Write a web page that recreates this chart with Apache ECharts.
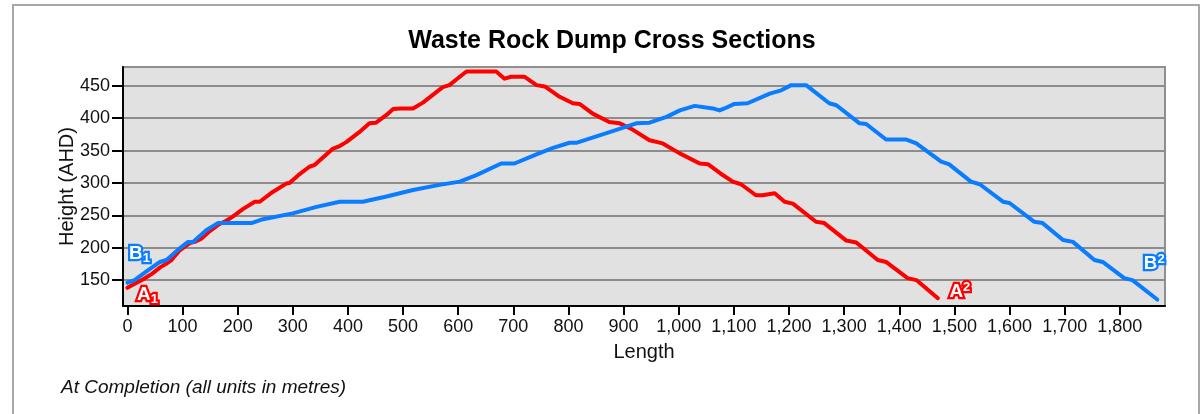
<!DOCTYPE html>
<html>
<head>
<meta charset="utf-8">
<title>Waste Rock Dump Cross Sections</title>
<script src="https://cdn.jsdelivr.net/npm/echarts@6/dist/echarts.min.js"></script>
<style>
  html, body { margin: 0; padding: 0; background: #fff; }
  #chart { width: 1200px; height: 414px; }
</style>
</head>
<body>
<div id="chart"></div>
<script>
// Section A-A (red): [length, height] profile points, metres
const sectionA = [
  [0,138],[15,145],[28,151],[45,160],[60,170],[72,176],[80,181],[95,196],[113,207],[122,209],
  [134,214],[150,226],[164,235],[180,242],[191,248],[210,260],[231,271],[240,271],[260,284],
  [288,299],[294,300],[310,312],[330,325],[340,328],[349,335],[373,353],[385,357],[397,363],
  [420,378],[439,392],[451,393],[470,405],[482,414],[495,415],[518,415],[536,424],[554,436],
  [572,448],[584,451],[600,462],[615,472],[669,472],[684,461],[696,464],[720,464],[742,451],
  [757,449],[784,433],[808,423],[820,422],[844,407],[874,394],[893,392],[917,382],[947,366],
  [971,361],[1001,346],[1038,330],[1053,329],[1075,315],[1098,302],[1113,298],[1140,281],
  [1152,281],[1174,284],[1192,271],[1207,268],[1249,240],[1264,238],[1304,211],[1322,208],
  [1361,181],[1376,178],[1415,153],[1431,150],[1470,122]
];

// Section B-B (blue): [length, height] profile points, metres
const sectionB = [
  [0,146],[13,150],[34,163],[59,178],[71,181],[95,199],[110,209],[119,209],[143,227],[164,238],
  [225,238],[246,244],[300,253],[343,263],[385,271],[427,271],[470,279],[518,289],[566,297],
  [603,302],[633,312],[678,330],[702,330],[742,344],[772,354],[802,362],[814,362],[869,377],
  [923,392],[947,393],[978,402],[1002,412],[1029,419],[1062,415],[1074,412],[1083,415],
  [1101,422],[1125,423],[1165,438],[1186,443],[1204,451],[1231,451],[1273,423],[1286,420],
  [1328,392],[1340,391],[1376,367],[1413,367],[1431,361],[1476,333],[1490,329],[1530,302],
  [1546,298],[1588,271],[1600,269],[1645,240],[1660,238],[1697,212],[1715,209],[1754,181],
  [1769,178],[1808,153],[1823,150],[1868,120]
];

// Axis tick values
const lengthTicks = [0,100,200,300,400,500,600,700,800,900,1000,1100,1200,1300,1400,1500,1600,1700,1800];
const heightTicks = [150,200,250,300,350,400,450];

// Section end labels: [section letter, start index, end index]
const sectionLabels = { A: ['A', '1', '2'], B: ['B', '1', '2'] };

const RED = '#ff0000';
const BLUE = '#0a7cff';
const FONT = '"Liberation Sans", Arial, sans-serif';

function endRich(color) {
  const base = {
    color: '#fff',
    fontFamily: FONT,
    fontWeight: 'bold',
    textBorderColor: color,
    textBorderWidth: 4.5
  };
  return {
    big: Object.assign({}, base, { fontSize: 19, lineHeight: 22 }),
    sub: Object.assign({}, base, { fontSize: 13, lineHeight: 22, verticalAlign: 'bottom' }),
    sup: Object.assign({}, base, { fontSize: 13, lineHeight: 22, verticalAlign: 'top' })
  };
}

function endMarks(points, letters, color, startOffset, endOffset) {
  const first = points[0];
  const last = points[points.length - 1];
  return {
    symbol: 'circle',
    symbolSize: 1,
    itemStyle: { color: 'rgba(0,0,0,0)' },
    silent: true,
    label: { show: true, rich: endRich(color) },
    data: [
      {
        coord: first,
        label: { offset: startOffset, formatter: '{big|' + letters[0] + '}{sub|' + letters[1] + '}' }
      },
      {
        coord: last,
        label: { offset: endOffset, formatter: '{big|' + letters[0] + '}{sup|' + letters[2] + '}' }
      }
    ]
  };
}

const chart = echarts.init(document.getElementById('chart'), null, { renderer: 'canvas' });

const fmt = v => v.toLocaleString('en-US');

chart.setOption({
  backgroundColor: '#fff',
  animation: false,
  textStyle: { fontFamily: FONT },
  title: [
    {
      text: 'Waste Rock Dump Cross Sections',
      left: 607,
      top: 24,
      textAlign: 'center',
      textStyle: { fontFamily: FONT, fontSize: 25, fontWeight: 'bold', color: '#000' }
    },
    {
      text: 'At Completion (all units in metres)',
      left: 56,
      top: 373,
      textStyle: { fontFamily: FONT, fontSize: 19, fontStyle: 'italic', fontWeight: 'normal', color: '#111' }
    }
  ],
  graphic: [
    {
      type: 'rect',
      shape: { x: 13, y: 5, width: 1186, height: 430 },
      style: { fill: null, stroke: '#a8a8a8', lineWidth: 2 },
      silent: true,
      z: -1
    }
  ],
  grid: {
    left: 123,
    right: 35,
    top: 67,
    bottom: 108,
    show: true,
    backgroundColor: '#e1e1e1',
    borderColor: '#8f8f8f',
    borderWidth: 2
  },
  xAxis: {
    type: 'value',
    min: -8,
    max: 1882,
    name: 'Length',
    nameLocation: 'middle',
    nameGap: 36,
    nameMoveOverlap: false,
    nameTextStyle: { fontFamily: FONT, fontSize: 20, color: '#111' },
    axisLine: { show: true, onZero: false, lineStyle: { color: '#000', width: 2 } },
    axisTick: { show: true, length: 9, lineStyle: { color: '#000', width: 2 }, customValues: lengthTicks },
    axisLabel: {
      fontFamily: FONT, fontSize: 18, color: '#111', margin: 12,
      customValues: lengthTicks,
      formatter: fmt
    },
    splitLine: { show: false }
  },
  yAxis: {
    type: 'value',
    min: 110,
    max: 479,
    name: 'Height (AHD)',
    nameLocation: 'middle',
    nameGap: 46,
    nameMoveOverlap: false,
    nameRotate: 90,
    nameTextStyle: { fontFamily: FONT, fontSize: 20, color: '#111' },
    axisLine: { show: true, onZero: false, lineStyle: { color: '#000', width: 2 } },
    axisTick: { show: true, length: 11, lineStyle: { color: '#000', width: 2 }, customValues: heightTicks },
    axisLabel: {
      fontFamily: FONT, fontSize: 18, color: '#111', margin: 13,
      customValues: heightTicks
    },
    splitLine: { show: true, lineStyle: { color: '#8c8c8c', width: 2 } }
  },
  series: [
    {
      name: 'Section A',
      type: 'line',
      data: sectionA,
      symbol: 'none',
      clip: false,
      lineStyle: { color: RED, width: 4, join: 'round', cap: 'round' },
      itemStyle: { color: RED },
      markPoint: endMarks(sectionA, sectionLabels.A, RED, [20, 7], [22, -6]),
      z: 3
    },
    {
      name: 'Section B',
      type: 'line',
      data: sectionB,
      symbol: 'none',
      clip: false,
      lineStyle: { color: BLUE, width: 4, join: 'round', cap: 'round' },
      itemStyle: { color: BLUE },
      markPoint: endMarks(sectionB, sectionLabels.B, BLUE, [12, -29], [-3, -36]),
      z: 4
    }
  ]
});
</script>
</body>
</html>
